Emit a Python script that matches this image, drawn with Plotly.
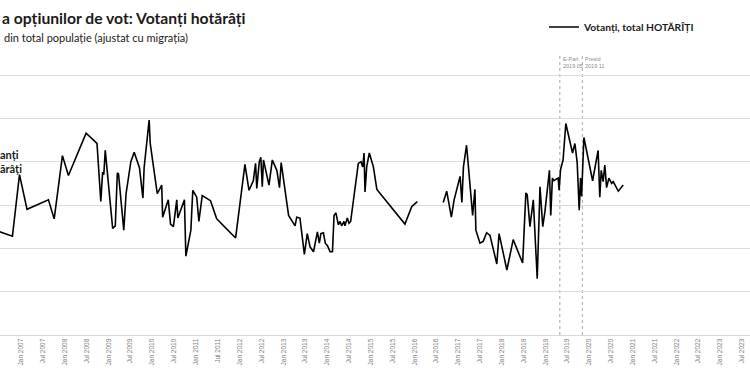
import plotly.graph_objects as go

# ---- data ----
dates = [
    "2006-05-27", "2006-10-19", "2006-12-17", "2007-02-18", "2007-08-16", "2007-10-03",
    "2007-12-11", "2008-01-30", "2008-06-26", "2008-09-25", "2008-10-27", "2008-11-11",
    "2008-11-21", "2008-12-03", "2009-02-03", "2009-02-25", "2009-03-14", "2009-03-24",
    "2009-05-07", "2009-05-26", "2009-07-05", "2009-08-02", "2009-09-15", "2009-10-14",
    "2009-10-24", "2009-11-08", "2009-12-05", "2009-12-14", "2010-02-11", "2010-03-20",
    "2010-03-28", "2010-05-14", "2010-06-02", "2010-06-26", "2010-07-24", "2010-08-02",
    "2010-09-26", "2010-10-08", "2010-11-19", "2010-12-05", "2011-01-07", "2011-01-25",
    "2011-02-22", "2011-05-02", "2011-06-23", "2011-11-28", "2012-02-14", "2012-03-19",
    "2012-04-24", "2012-05-13", "2012-05-23", "2012-06-13", "2012-06-26", "2012-07-08",
    "2012-07-18", "2012-09-02", "2012-09-30", "2012-11-07", "2012-11-29", "2012-12-13",
    "2013-02-13", "2013-04-08", "2013-04-22", "2013-05-19", "2013-06-25", "2013-07-19",
    "2013-08-11", "2013-09-09", "2013-10-12", "2013-10-28", "2013-11-10", "2013-12-01",
    "2013-12-17", "2014-01-04", "2014-01-26", "2014-02-15", "2014-02-28", "2014-03-16",
    "2014-04-05", "2014-04-19", "2014-05-03", "2014-05-22", "2014-05-30", "2014-06-19",
    "2014-07-03", "2014-07-17", "2014-09-19", "2014-10-11", "2014-10-26", "2014-11-06",
    "2014-11-14", "2014-11-28", "2014-12-20", "2015-01-23", "2015-02-21", "2015-10-14",
    "2015-12-09", "2016-01-25", "2016-04-15",
    "2016-08-29", "2016-09-27", "2016-11-05", "2016-11-28", "2017-01-17", "2017-02-01",
    "2017-02-14", "2017-03-12", "2017-05-02", "2017-05-21", "2017-05-29", "2017-07-02",
    "2017-07-29", "2017-08-27", "2017-09-24", "2017-11-20", "2017-12-09", "2018-02-12",
    "2018-04-06", "2018-06-24", "2018-07-21", "2018-08-01", "2018-08-24", "2018-09-21",
    "2018-10-24", "2018-11-16", "2018-12-09", "2018-12-27", "2019-02-03", "2019-02-14",
    "2019-02-28", "2019-03-11", "2019-04-17", "2019-04-25", "2019-05-07", "2019-05-28",
    "2019-06-20", "2019-07-23", "2019-08-15", "2019-09-04", "2019-09-23", "2019-10-10",
    "2019-10-21", "2019-10-30", "2019-11-08", "2019-11-18", "2020-01-30", "2020-03-16",
    "2020-03-30", "2020-04-11", "2020-04-27", "2020-05-11", "2020-05-26", "2020-06-14",
    "2020-07-07", "2020-07-20", "2020-09-01", "2020-10-12",
]
votanti_hotarati = [
    42.1, 41.4, 48.5, 44.5, 45.6, 43.4,
    50.7, 48.4, 53.3, 52.1, 45.4, 48.8,
    48.5, 51.3, 42.3, 42.6, 48.7, 48.6,
    42.1, 46.3, 50.0, 51.1, 49.3, 45.8,
    49.3, 51.4, 54.8, 52.1, 46.3, 47.3,
    43.6, 45.6, 42.8, 42.5, 45.6, 43.5,
    45.6, 39.1, 42.1, 46.7, 45.9, 43.1,
    46.1, 45.5, 43.4, 41.2, 49.7, 46.7,
    47.8, 49.8, 46.9, 50.0, 50.5, 47.1,
    50.2, 47.3, 50.2, 49.0, 47.0, 49.9,
    43.8, 42.6, 43.6, 43.5, 39.3, 41.7,
    40.2, 39.6, 41.9, 40.6, 41.7, 41.8,
    40.6, 40.3, 39.6, 39.6, 43.8, 44.1,
    42.7, 43.1, 42.6, 43.1, 42.6, 43.5,
    42.9, 43.1, 49.8, 50.0, 49.4, 51.0,
    46.5, 49.4, 51.0, 49.4, 46.8, 42.8,
    44.8, 45.4, None,
    45.3, 46.6, 43.6, 45.6, 48.3, 45.3,
    49.4, 51.9, 43.8, 46.8, 42.1, 40.6,
    40.8, 41.8, 41.5, 38.2, 41.7, 37.5,
    41.0, 38.3, 46.4, 46.2, 42.5, 45.6,
    36.5, 47.1, 42.5, 44.2, 49.0, 43.8,
    48.1, 47.8, 48.1, 46.7, 49.1, 50.2,
    54.4, 52.3, 51.0, 52.1, 49.9, 44.4,
    48.1, 46.0, 50.0, 52.8, 47.8, 51.3,
    45.9, 49.0, 47.7, 49.6, 47.0, 48.1,
    47.5, 47.7, 46.6, 47.3,
]
event_dates = ["2019-05-01", "2019-11-05"]
event_labels = ["E-Parl<br>2019 05", "Presid<br>2019 11"]

title_text = "a opțiunilor de vot: Votanți hotărâți"
subtitle_text = "din total populație (ajustat cu migrația)"
series_name = "Votanți, total HOTĂRÎȚI"
side_label = "anți<br>ărâți"

# ---- figure ----
fig = go.Figure()
fig.add_trace(go.Scatter(
    x=dates, y=votanti_hotarati, mode="lines",
    name="<b>" + series_name + "</b>",
    line=dict(color="#000000", width=1.6),
    connectgaps=False,
))

for d, lab in zip(event_dates, event_labels):
    fig.add_shape(type="line", xref="x", yref="paper", x0=d, x1=d, y0=0, y1=1,
                  line=dict(color="#a6a6a6", width=1, dash="dot"), layer="below")
    fig.add_annotation(x=d, xref="x", y=1, yref="paper", text=lab, showarrow=False,
                       xanchor="left", yanchor="top", xshift=1, yshift=1, align="left",
                       font=dict(family="Liberation Sans", size=5.5, color="#8c8c8c"))

fig.add_annotation(x=0, xref="paper", y=1.132, yref="paper", text="<b>" + title_text + "</b>",
                   showarrow=False, xanchor="left", yanchor="middle",
                   font=dict(family="Lato", size=15.7, color="#1a1a1a"))
fig.add_annotation(x=0.002, xref="paper", y=1.064, yref="paper", text=subtitle_text,
                   showarrow=False, xanchor="left", yanchor="middle",
                   font=dict(family="Lato", size=11, color="#1a1a1a"))
fig.add_annotation(x=0.0, xref="paper", y=0.618, yref="paper", text="<b>" + side_label + "</b>",
                   showarrow=False, xanchor="left", yanchor="middle", align="left",
                   xshift=-2,
                   font=dict(family="Lato", size=11, color="#1a1a1a"))

fig.update_layout(
    width=750, height=375,
    margin=dict(l=0, r=0, t=55, b=40),
    paper_bgcolor="white", plot_bgcolor="white",
    showlegend=True,
    legend=dict(x=0.7253, xanchor="left", y=1.1, yanchor="middle",
                font=dict(family="Lato", size=10.3, color="#1a1a1a"),
                bgcolor="rgba(0,0,0,0)", itemwidth=30),
    xaxis=dict(
        type="date", range=["2006-07-07", "2023-09-07"], automargin=False,
        tick0="2007-01-01", dtick="M6", tickformat="%b %Y", tickangle=-90,
        tickfont=dict(family="Liberation Sans", size=6.5, color="#7f7f7f"),
        showgrid=False, zeroline=False, ticks="",
        showline=True, linecolor="#d9d9d9", linewidth=1.3,
    ),
    yaxis=dict(
        range=[30, 62.31], tick0=30, dtick=5, automargin=False,
        showticklabels=False, zeroline=False, showline=False,
        gridcolor="#dcdcdc", gridwidth=1.3,
    ),
)

fig.write_html(
    "out.html",
    config={"displayModeBar": False},
    post_script="document.body.style.margin='0';document.body.style.overflow='hidden';",
)
